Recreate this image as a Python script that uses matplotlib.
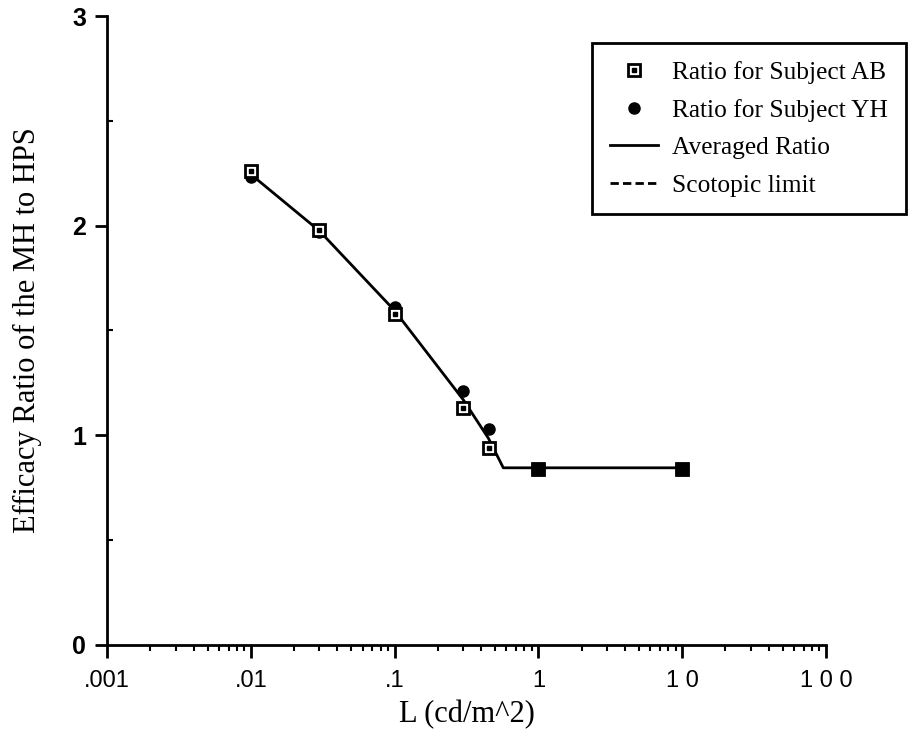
import matplotlib
matplotlib.use("Agg")
import matplotlib.pyplot as plt
from matplotlib.lines import Line2D
from matplotlib.ticker import FixedLocator, LogLocator, NullFormatter

# Data
x_ab = [0.01, 0.03, 0.1, 0.3, 0.45, 1, 10]
y_ab = [2.26, 1.98, 1.58, 1.13, 0.94, 0.84, 0.84]
x_yh = [0.01, 0.03, 0.1, 0.3, 0.45, 1, 10]
y_yh = [2.23, 1.97, 1.61, 1.21, 1.03, 0.84, 0.84]
x_avg = [0.01, 0.03, 0.1, 0.3, 0.45, 0.57, 1, 10]
y_avg = [2.245, 1.975, 1.595, 1.17, 0.985, 0.845, 0.845, 0.845]
xticks = [0.001, 0.01, 0.1, 1, 10, 100]
xtick_labels = [".001", ".01", ".1", "1", "1 0", "1 0 0"]
yticks = [0, 1, 2, 3]
yminor = [0.5, 1.5, 2.5]

fig = plt.figure(figsize=(9.09, 7.41), dpi=100)
ax = fig.add_axes([0.1177, 0.1296, 0.7910, 0.8488])

ax.plot(x_avg, y_avg, color="black", lw=2, zorder=2)
ax.plot(x_yh, y_yh, linestyle="none", marker="o", markersize=8,
        color="black", zorder=3)
ax.plot(x_ab, y_ab, linestyle="none", marker="s", markersize=8.5,
        markerfacecolor="white", markeredgecolor="black", markeredgewidth=2, zorder=4)
ax.plot(x_ab, y_ab, linestyle="none", marker="s", markersize=2.5,
        color="black", zorder=5)
# overlapping points at 1 and 10 appear filled
ax.plot(x_ab[-2:], y_ab[-2:], linestyle="none", marker="s", markersize=8.5,
        color="black", zorder=6)

ax.set_xscale("log")
ax.set_xlim(0.001, 100)
ax.set_ylim(0, 3)

for s in ["top", "right"]:
    ax.spines[s].set_visible(False)
for s in ["left", "bottom"]:
    ax.spines[s].set_linewidth(2)

ax.xaxis.set_major_locator(FixedLocator(xticks))
ax.set_xticklabels(xtick_labels, fontfamily="Liberation Sans", fontsize=17)
ax.xaxis.set_minor_locator(LogLocator(base=10, subs=range(2, 10), numticks=20))
ax.xaxis.set_minor_formatter(NullFormatter())
ax.set_yticks(yticks)
ax.set_yticklabels([str(v) for v in yticks], fontfamily="Liberation Sans", fontweight="bold", fontsize=18)
ax.yaxis.set_minor_locator(FixedLocator(yminor))

ax.tick_params(axis="both", which="major", direction="out", length=9, width=2)
ax.tick_params(axis="x", which="major", pad=9)
ax.tick_params(axis="y", which="major", pad=6)
ax.tick_params(axis="x", which="minor", direction="out", length=4, width=1.5)
ax.tick_params(axis="y", which="minor", direction="in", length=4, width=1.5)

ax.set_xlabel("L (cd/m^2)", fontfamily="Liberation Serif", fontsize=22, labelpad=6)
ax.set_ylabel("Efficacy Ratio of the MH to HPS", fontfamily="Liberation Serif", fontsize=22)
ax.yaxis.set_label_coords(-0.09, 0.5)

h_ab = (Line2D([], [], linestyle="none", marker="s", markersize=8, markerfacecolor="white",
               markeredgecolor="black", markeredgewidth=2),
        Line2D([], [], linestyle="none", marker="s", markersize=2.5, color="black"))
h_yh = Line2D([], [], linestyle="none", marker="o", markersize=8, color="black")
h_avg = Line2D([], [], color="black", lw=2)
h_sco = Line2D([], [], color="black", lw=2, linestyle=(0, (3, 1.5)))

leg = ax.legend([h_ab, h_yh, h_avg, h_sco],
                ["Ratio for Subject AB", "Ratio for Subject YH", "Averaged Ratio", "Scotopic limit"],
                loc="upper left", bbox_to_anchor=(0.6745, 0.957),
                prop={"family": "Liberation Serif", "size": 18.3},
                frameon=True, fancybox=False, edgecolor="black", framealpha=1,
                handlelength=1.9, handletextpad=0.55, labelspacing=0.58, borderpad=0.7,
                borderaxespad=0)
leg.get_frame().set_linewidth(2)
leg.set_clip_on(False)
# keep legend's right border inside the figure
fig.canvas.draw()
bb = leg.get_window_extent()
if bb.x1 > fig.bbox.width - 3:
    shift = (bb.x1 - (fig.bbox.width - 3)) / ax.bbox.width
    leg.set_bbox_to_anchor((0.6745 - shift, 0.957), transform=ax.transAxes)

fig.savefig("out.png", dpi=100)
